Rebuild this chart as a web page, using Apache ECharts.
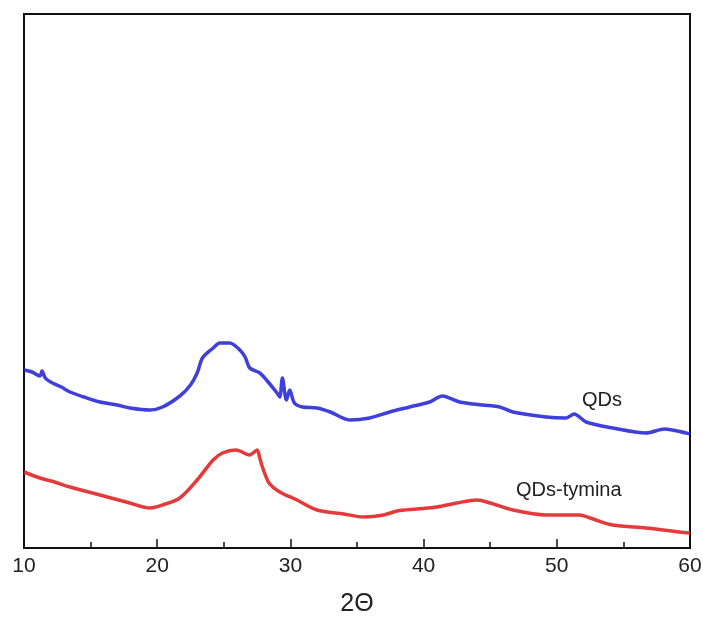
<!DOCTYPE html>
<html>
<head>
<meta charset="utf-8">
<script src="https://cdn.jsdelivr.net/npm/echarts@6/dist/echarts.min.js"></script>
<style>
  html, body { margin: 0; padding: 0; background: #fff; }
  #chart { width: 703px; height: 623px; }
</style>
</head>
<body>
<div id="chart"></div>
<script>
// XRD patterns, intensity in arbitrary units
const qdsAngle = [10.0, 10.6, 11.2, 11.35, 11.6, 12.0, 12.8, 13.45, 14.5, 15.7, 17.0, 17.95, 19.45, 20.4, 21.7, 22.5, 23.0, 23.4, 24.2, 24.7, 25.45, 26.2, 26.6, 26.95, 27.7, 28.2, 29.0, 29.2, 29.4, 29.7, 29.95, 30.3, 30.9, 32.0, 33.0, 34.45, 35.95, 37.45, 38.95, 40.45, 41.4, 42.7, 44.4, 45.7, 46.7, 49.2, 50.7, 51.3, 52.2, 54.2, 56.7, 58.1, 59.7, 60.0];
const qdsIntensity = [178, 176, 172, 177, 170, 166, 161, 156, 151, 146, 143, 140, 138, 141, 152, 163, 175, 190, 200, 205, 205, 198, 191, 180, 175, 168, 155, 151, 170, 148, 158, 145, 141, 140, 136, 128, 130, 136, 141, 146, 152, 146, 143, 141, 136, 131, 130, 134, 126, 120, 115, 119, 115, 114];

const tyminaAngle = [10.0, 11.2, 12.3, 13.45, 15.7, 17.95, 19.45, 20.4, 21.7, 23.0, 24.2, 24.9, 25.9, 26.95, 27.5, 27.7, 27.9, 28.4, 29.2, 30.5, 32.0, 34.0, 35.5, 37.0, 38.0, 39.5, 41.0, 42.5, 44.0, 45.0, 46.7, 49.2, 51.7, 52.5, 54.2, 56.7, 59.2, 60.0];
const tyminaIntensity = [76, 70, 66, 61, 53, 45, 40, 43, 50, 68, 88, 95, 98, 93, 98, 90, 81, 65, 56, 48, 38, 34, 31, 33, 37, 39, 41, 45, 48, 45, 38, 33, 33, 30, 23, 20, 16, 15];

const xTicks = [10, 20, 30, 40, 50, 60];
const seriesNames = ['QDs', 'QDs-tymina'];

const pairs = (xs, ys) => xs.map((x, i) => [x, ys[i]]);

const chart = echarts.init(document.getElementById('chart'));
chart.setOption({
  animation: false,
  backgroundColor: '#ffffff',
  grid: {
    left: 24, right: 13, top: 14, bottom: 75,
    outerBoundsMode: 'none',
    containLabel: false,
    show: true, borderColor: '#111', borderWidth: 2, backgroundColor: 'transparent'
  },
  xAxis: {
    type: 'value',
    min: xTicks[0], max: xTicks[xTicks.length - 1], interval: 10,
    name: '2\u0398',
    nameLocation: 'middle',
    nameGap: 44,
    nameTextStyle: { fontFamily: 'Liberation Sans', fontSize: 25, color: '#222' },
    axisLine: { show: true, onZero: false, lineStyle: { color: '#111', width: 2 } },
    axisTick: { show: true, inside: true, length: 9, lineStyle: { color: '#111', width: 1.5 } },
    minorTick: { show: true, splitNumber: 2, length: 6, lineStyle: { color: '#111', width: 1.5 } },
    axisLabel: { fontFamily: 'Liberation Sans', fontSize: 21, color: '#222', margin: 8 },
    splitLine: { show: false }
  },
  yAxis: {
    type: 'value',
    min: 0, max: 534,
    axisLine: { show: true, lineStyle: { color: '#111', width: 2 } },
    axisTick: { show: false },
    axisLabel: { show: false },
    splitLine: { show: false }
  },
  series: [
    {
      name: seriesNames[0],
      type: 'line',
      data: pairs(qdsAngle, qdsIntensity),
      showSymbol: false,
      smooth: 0.3,
      lineStyle: { color: '#2a2ad6', width: 3.5, opacity: 0.9 },
      itemStyle: { color: '#2a2ad6' }
    },
    {
      name: seriesNames[1],
      type: 'line',
      data: pairs(tyminaAngle, tyminaIntensity),
      showSymbol: false,
      smooth: 0.3,
      lineStyle: { color: '#e02626', width: 3.5, opacity: 0.9 },
      itemStyle: { color: '#e02626' }
    }
  ],
  graphic: [
    {
      type: 'text', left: 582, top: 390,
      style: { text: seriesNames[0], fontFamily: 'Liberation Sans', fontSize: 20, fill: '#222' }
    },
    {
      type: 'text', left: 516, top: 480,
      style: { text: seriesNames[1], fontFamily: 'Liberation Sans', fontSize: 20, fill: '#222' }
    }
  ]
});
</script>
</body>
</html>
